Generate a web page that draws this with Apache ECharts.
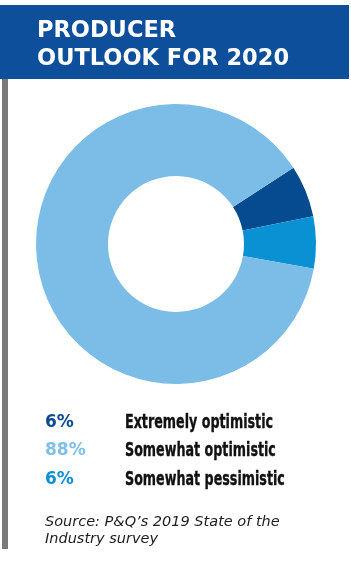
<!DOCTYPE html>
<html>
<head>
<meta charset="utf-8">
<script src="https://cdn.jsdelivr.net/npm/echarts@6/dist/echarts.min.js"></script>
<style>
html,body{margin:0;padding:0;background:#fff;}
#c{width:351px;height:564px;}
</style>
</head>
<body>
<div id="c"></div>
<script>
// ---- data ----
var titleLines = ['PRODUCER', 'OUTLOOK FOR 2020'];
var sliceNames = ['Extremely optimistic', 'Somewhat pessimistic', 'Somewhat optimistic'];
var sliceValues = [6, 6, 88];
var sliceColors = ['#064b8f', '#0a91d4', '#7bbde6'];
var legendNames = ['Extremely optimistic', 'Somewhat optimistic', 'Somewhat pessimistic'];
var legendValues = [6, 88, 6];
var legendColors = ['#0b4a8e', '#7ec0ea', '#0c8fd4'];
var sourceLines = ['Source: P&Q\u2019s 2019 State of the', 'Industry survey'];

var chart = echarts.init(document.getElementById('c'));

var graphics = [
  {type:'rect', shape:{x:0, y:5, width:349, height:74}, style:{fill:'#0d4f9b'}, z:0},
  {type:'rect', shape:{x:2, y:79, width:6, height:470}, style:{fill:'#7b797a'}, z:0}
];
legendNames.forEach(function(n, i){
  var y = 422.5 + i * 28.5;
  graphics.push({type:'text', x:45, y:y, style:{
    text: legendValues[i] + '%', fill: legendColors[i],
    font: 'bold 17px "DejaVu Sans"', verticalAlign:'middle'
  }});
  graphics.push({type:'text', x:125, y:y, scaleX:0.635, style:{
    text: n, fill: '#111', stroke:'#111', lineWidth:0.4,
    font: 'bold 20px "DejaVu Sans"', verticalAlign:'middle'
  }});
});
sourceLines.forEach(function(s, i){
  graphics.push({type:'text', x:45, y:522.5 + i * 17, style:{
    text: s, fill: '#1e1e1e',
    font: 'italic 14.5px "DejaVu Sans", sans-serif', verticalAlign:'middle'
  }});
});

chart.setOption({
  animation:false,
  title:{
    text: titleLines.join('\n'),
    left: 32, top: 12,
    textStyle:{color:'#fff', fontFamily:'"DejaVu Sans", sans-serif', fontWeight:'bold', fontSize:22.5, lineHeight:28}
  },
  graphic: graphics,
  series:[{
    type:'pie',
    silent:true,
    center:[176, 244],
    radius:[68, 140],
    startAngle:33,
    clockwise:true,
    label:{show:false},
    labelLine:{show:false},
    itemStyle:{borderWidth:0},
    data: sliceNames.map(function(n, i){
      return {name:n, value:sliceValues[i], itemStyle:{color:sliceColors[i]}};
    })
  }]
});
</script>
</body>
</html>
